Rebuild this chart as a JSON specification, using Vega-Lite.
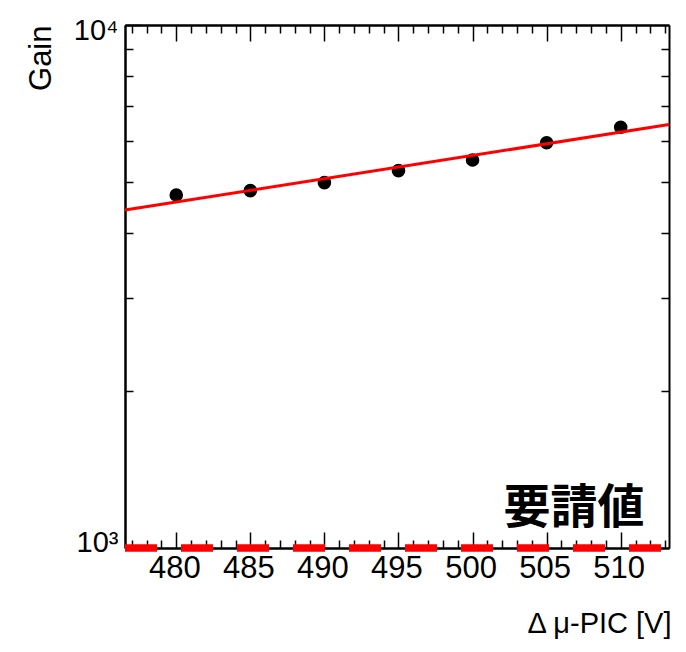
{
  "$schema": "https://vega.github.io/schema/vega-lite/v6.json",
  "width": 544,
  "height": 523,
  "autosize": {"type": "none"},
  "padding": {"left": 125, "top": 25, "right": 17, "bottom": 104},
  "background": "white",
  "config": {
    "view": {"stroke": null},
    "axis": {
      "grid": false,
      "domainColor": "black",
      "domainWidth": 2,
      "tickColor": "black",
      "tickWidth": 1.5,
      "labelColor": "black",
      "labelFont": "Liberation Sans",
      "titleFont": "Liberation Sans",
      "titleColor": "black",
      "titleFontWeight": "normal"
    }
  },
  "resolve": {"axis": {"x": "independent", "y": "independent"}},
  "layer": [
    {
      "data": {"values": [
        {"v": 480, "g": 4732},
        {"v": 485, "g": 4823},
        {"v": 490, "g": 4995},
        {"v": 495, "g": 5266},
        {"v": 500, "g": 5519},
        {"v": 505, "g": 5956},
        {"v": 510, "g": 6375}
      ]},
      "mark": {"type": "circle", "size": 185, "color": "black", "opacity": 1},
      "encoding": {
        "x": {"field": "v", "type": "quantitative",
          "scale": {"domain": [476.54, 513.26], "nice": false, "zero": false},
          "axis": {"orient": "bottom", "values": [480, 485, 490, 495, 500, 505, 510],
            "tickSize": -16, "labelFontSize": 31, "labelPadding": 21, "labelFlush": false,
            "labelOffset": -2,
            "title": "Δ μ-PIC [V]", "titleFontSize": 29, "titleAlign": "right",
            "titleAnchor": "end", "titleX": 546, "titleY": 84, "titleBaseline": "alphabetic"}},
        "y": {"field": "g", "type": "quantitative",
          "scale": {"type": "log", "domain": [1000, 10000], "nice": false},
          "axis": {"orient": "left", "values": [1000, 10000],
            "labelExpr": "datum.value == 10000 ? '10⁴' : '10³'",
            "tickSize": -16, "labelFontSize": 29, "labelPadding": 23, "labelFlush": false,
            "labelOffset": {"condition": {"test": "datum.value == 10000", "value": 5}, "value": -6},
            "title": "Gain", "titleFontSize": 31, "titleAngle": -90, "titleAlign": "right",
            "titleBaseline": "alphabetic", "titleX": -75, "titleY": 0}}
      }
    },
    {
      "data": {"values": [
        {"v": 476.54, "g": 4429},
        {"v": 513.26, "g": 6450}
      ]},
      "mark": {"type": "line", "color": "#ff0000", "strokeWidth": 3},
      "encoding": {
        "x": {"field": "v", "type": "quantitative",
          "scale": {"domain": [476.54, 513.26], "nice": false, "zero": false},
          "axis": {"orient": "top", "values": [480, 485, 490, 495, 500, 505, 510],
            "tickSize": -16, "labels": false, "title": null}},
        "y": {"field": "g", "type": "quantitative",
          "scale": {"type": "log", "domain": [1000, 10000], "nice": false},
          "axis": {"orient": "right", "values": [2000, 3000, 4000, 5000, 6000, 7000, 8000, 9000],
            "tickSize": -8, "labels": false, "title": null}}
      }
    },
    {
      "data": {"values": [
        {"v": 476.54, "v2": 513.26, "g": 1000}
      ]},
      "mark": {"type": "rule", "color": "#ff0000", "strokeWidth": 7.5, "strokeDash": [32, 24], "strokeCap": "butt"},
      "encoding": {
        "x": {"field": "v", "type": "quantitative",
          "scale": {"domain": [476.54, 513.26], "nice": false, "zero": false},
          "axis": {"orient": "bottom", "values": [477, 478, 479, 481, 482, 483, 484, 486, 487, 488, 489, 491, 492, 493, 494, 496, 497, 498, 499, 501, 502, 503, 504, 506, 507, 508, 509, 511, 512, 513],
            "tickSize": -8, "labels": false, "title": null}},
        "x2": {"field": "v2"},
        "y": {"field": "g", "type": "quantitative",
          "scale": {"type": "log", "domain": [1000, 10000], "nice": false},
          "axis": {"orient": "left", "values": [2000, 3000, 4000, 5000, 6000, 7000, 8000, 9000],
            "tickSize": -8, "labels": false, "title": null}}
      }
    },
    {
      "data": {"values": [
        {"v": 511.6, "g": 1187, "label": "要請値"}
      ]},
      "mark": {"type": "text", "align": "right", "baseline": "middle", "font": "Noto Sans CJK JP", "fontWeight": "bold", "fontSize": 47, "color": "black"},
      "encoding": {
        "x": {"field": "v", "type": "quantitative",
          "scale": {"domain": [476.54, 513.26], "nice": false, "zero": false},
          "axis": {"orient": "top", "values": [477, 478, 479, 481, 482, 483, 484, 486, 487, 488, 489, 491, 492, 493, 494, 496, 497, 498, 499, 501, 502, 503, 504, 506, 507, 508, 509, 511, 512, 513],
            "tickSize": -8, "labels": false, "title": null}},
        "y": {"field": "g", "type": "quantitative",
          "scale": {"type": "log", "domain": [1000, 10000], "nice": false},
          "axis": null},
        "text": {"field": "label"}
      }
    }
  ]
}
